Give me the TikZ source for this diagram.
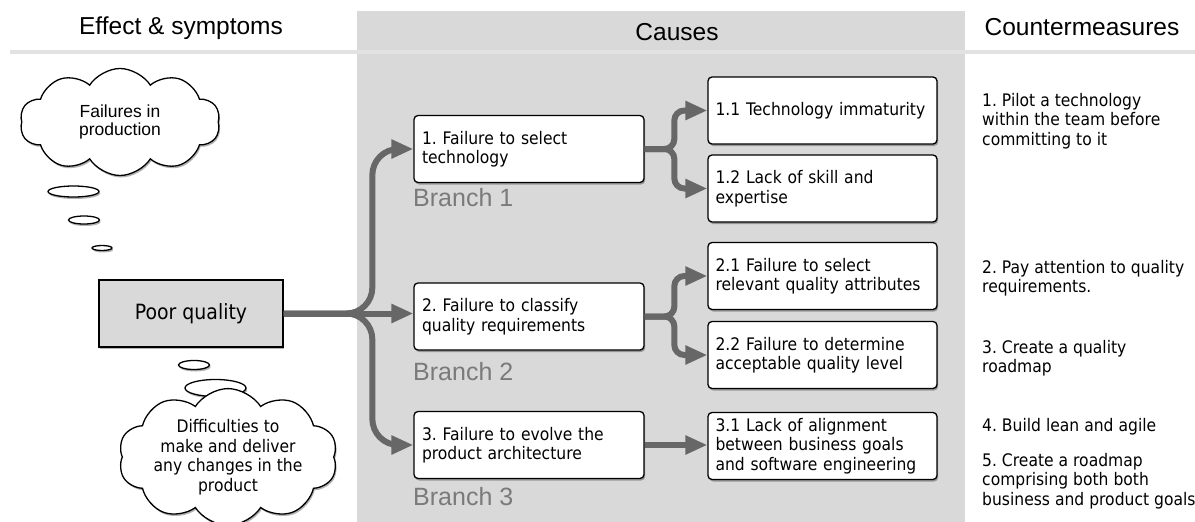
\documentclass[tikz,border=0pt]{standalone}
\usepackage{fontspec}
\setmainfont{DejaVu Sans}[FakeStretch=0.9]
\newfontfamily\arialf{Liberation Sans}
\usetikzlibrary{shapes.symbols,shadows,arrows.meta}
\definecolor{bandgray}{HTML}{D9D9D9}
\definecolor{rulegray}{HTML}{E2E2E2}
\definecolor{arrowgray}{HTML}{676767}
\definecolor{branchgray}{HTML}{7A7A7A}
\definecolor{pqgray}{HTML}{D9D9D9}
\frenchspacing
\tikzset{
  shad/.style={drop shadow={shadow xshift=1.2pt, shadow yshift=-2pt, opacity=0.3, fill=black}},
  causebox/.style={draw=black, line width=1.3pt, rounded corners=4pt, fill=white, shad,
    minimum width=229pt, minimum height=67pt, text width=214pt, align=left, inner sep=0pt,
    font=\fontsize{17.3}{19.5}\selectfont},
  arr/.style={draw=arrowgray, line width=6pt, -{Triangle[length=22pt,width=18pt]}},
  header/.style={font=\arialf\fontsize{24.5}{28}\selectfont},
  branchlbl/.style={anchor=west, inner sep=0pt, text=branchgray, font=\arialf\fontsize{25}{28}\selectfont},
  cmtext/.style={anchor=west, inner sep=0pt, align=left, font=\fontsize{17.3}{19.5}\selectfont},
  thought/.style={cloud, cloud puffs=10, cloud puff arc=115, cloud ignores aspect, draw=black,
    line width=1.3pt, fill=white, shad, inner sep=0pt, align=center},
  bubble/.style={draw=black, line width=1.3pt, fill=white, shad},
}
\begin{document}
\begin{tikzpicture}[x=1pt,y=-1pt]
\useasboundingbox (0,0) rectangle (1195,522);
% background band and header rule
\fill[bandgray] (357,11) rectangle (965,522);
\draw[rulegray, line width=4pt] (10,52) -- (1195,52);
% headers
\node[header] (h1) at (181,28) {Effect \& symptoms};
\node[header] (h2) at (677,32) {Causes};
\node[header] (h3) at (1082,27) {Countermeasures};
% effect side
\node[thought, minimum width=200pt, minimum height=107pt, font=\arialf\fontsize{17.5}{18.5}\selectfont] (c1) at (120,122) {Failures in\\production};
\draw[bubble] (73.5,191.5) ellipse [x radius=25.5pt, y radius=5.5pt];
\draw[bubble] (84,220) ellipse [x radius=15.5pt, y radius=4pt];
\draw[bubble] (102,248) ellipse [x radius=10pt, y radius=2.5pt];
\node[draw=black, line width=1.3pt, fill=pqgray, shad, minimum width=184pt, minimum height=67pt, inner sep=0pt,
  font=\fontsize{21}{24}\selectfont] (pq) at (191,313.5) {Poor quality};
\draw[bubble] (194,365) ellipse [x radius=15.5pt, y radius=4.5pt];
\draw[bubble] (215.5,388) ellipse [x radius=30.5pt, y radius=8.5pt];
\node[thought, minimum width=219pt, minimum height=107pt, font=\fontsize{17.3}{19.5}\selectfont] (c2) at (228,457) {Difficulties to\\make and deliver\\any changes in the\\product};
% causes
\node[causebox, minimum width=230pt] (b1) at (529,149) {1. Failure to select\\technology};
\node[causebox, minimum width=230pt] (b2) at (529,316.5) {2. Failure to classify\\quality requirements};
\node[causebox, minimum width=230pt] (b3) at (529,445) {3. Failure to evolve the\\product architecture};
\node[causebox] (b11) at (822.5,110.5) {1.1 Technology immaturity};
\node[causebox] (b12) at (822.5,188.5) {1.2 Lack of skill and\\expertise};
\node[causebox] (b21) at (822.5,276) {2.1 Failure to select\\relevant quality attributes};
\node[causebox] (b22) at (822.5,355) {2.2 Failure to determine\\acceptable quality level};
\node[causebox] (b31) at (822.5,446) {3.1 Lack of alignment\\between business goals\\and software engineering};
\node[branchlbl] (br1) at (413,198) {Branch 1};
\node[branchlbl] (br2) at (413,372) {Branch 2};
\node[branchlbl] (br3) at (413,497) {Branch 3};
% connectors
\draw[arr, rounded corners=26pt] (pq.east) -| ([xshift=-41pt]b1.west) -- (b1.west);
\draw[arr, rounded corners=26pt] (pq.east) -| ([xshift=-41pt]b3.west) -- (b3.west);
\draw[arr] (pq.east) -- (pq.east -| b2.west);
\draw[arr, rounded corners=10pt] (b1.east) -| ([xshift=-33pt]b11.west) -- (b11.west);
\draw[arr, rounded corners=10pt] (b1.east) -| ([xshift=-33pt]b12.west) -- (b12.west);
\draw[arr, rounded corners=10pt] (b2.east) -| ([xshift=-33pt]b21.west) -- (b21.west);
\draw[arr, rounded corners=10pt] (b2.east) -| ([xshift=-33pt]b22.west) -- (b22.west);
\draw[arr] (b3.east) -- (b3.east -| b31.west);
% countermeasures
\node[cmtext] (m1) at (982,121) {1. Pilot a technology\\within the team before\\committing to it};
\node[cmtext] (m2) at (982,278) {2. Pay attention to quality\\requirements.};
\node[cmtext] (m3) at (982,358) {3. Create a quality\\roadmap};
\node[cmtext] (m4) at (982,427) {4. Build lean and agile};
\node[cmtext] (m5) at (982,481) {5. Create a roadmap\\comprising both both\\business and product goals};
\end{tikzpicture}
\end{document}
